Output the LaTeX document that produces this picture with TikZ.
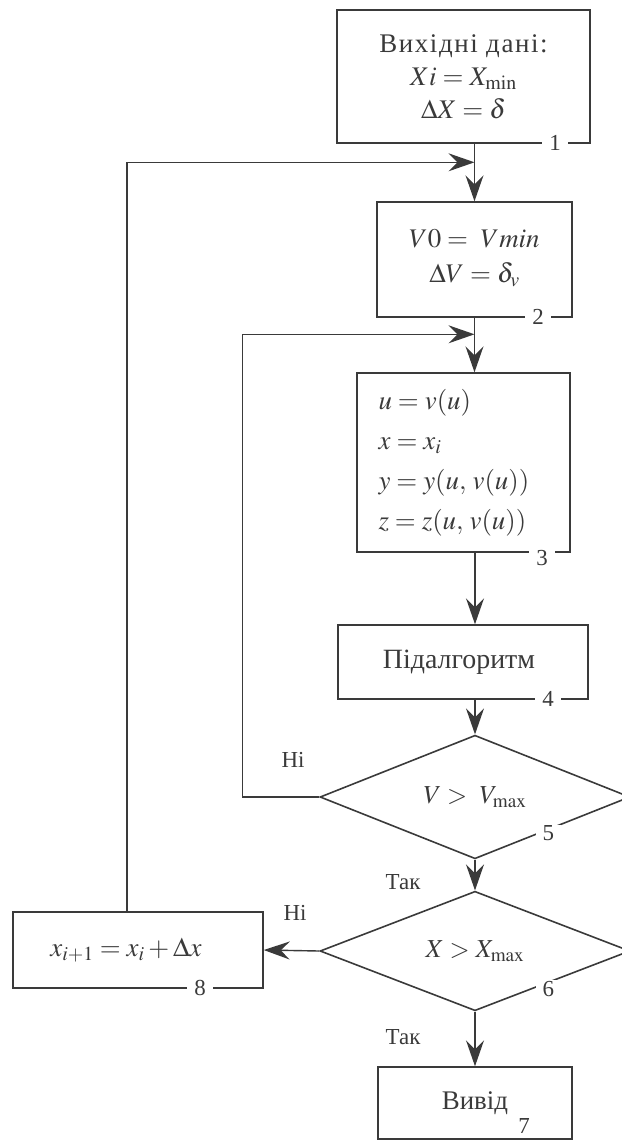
\documentclass[tikz,border=0pt]{standalone}
\usepackage{mathptmx}
\usepackage{fontspec}
\setmainfont{Liberation Serif}
\usepackage{tikz}
\usetikzlibrary{arrows.meta, positioning, shapes.geometric, calc}
\definecolor{inkgray}{RGB}{58,58,58}

\tikzset{
  blk/.style={draw=inkgray, line width=1.4bp, rectangle, inner sep=0pt,
    text=inkgray, align=center, font=\fontsize{27}{33}\selectfont},
  cond/.style={draw=inkgray, line width=1.6bp, diamond, inner sep=0pt,
    minimum width=310bp, minimum height=114bp, text=inkgray,
    font=\fontsize{26}{28}\selectfont},
  num/.style={fill=white, inner xsep=7bp, inner ysep=1bp, text=inkgray,
    font=\fontsize{23}{24}\selectfont},
  tag/.style={text=inkgray, font=\fontsize{23}{24}\selectfont},
  lnk/.style={draw=inkgray, line width=1.4bp},
  arr/.style={lnk, -{Stealth[length=26bp, width=18bp, inset=9bp]}}
}

\begin{document}
\begin{tikzpicture}[x=1bp, y=-1bp]
  \useasboundingbox (0,0) rectangle (622,1141);
  \clip (0,0) rectangle (622,1141);

  % Input data
  \node[blk, minimum width=253bp, minimum height=133bp] (b1) at (463.5,76.5)
       {{\addfontfeature{LetterSpace=6}Вихідні дані:}\\ $Xi = X_{\mathrm{min}}$\\ $\Delta X = \delta$};

  % Initial V
  \node[blk, minimum width=195bp, minimum height=115bp] (b2) at (474.5,259.5)
       {\raisebox{7bp}{$V0 = \ Vmin$}\\[2bp] \raisebox{7bp}{$\Delta V = \delta_v$}};

  % Point on the surface
  \node[blk, minimum width=213bp, minimum height=179bp, align=left,
        text width=170bp, inner xsep=21bp, font=\fontsize{27}{40}\selectfont] (b3) at (463.5,462.5)
       {$u = v(u)$\\ $x = x_i$\\ $y = y(u,\, v(u))$\\ $z = z(u,\, v(u))$};

  % Subalgorithm
  \node[blk, minimum width=250bp, minimum height=74bp, font=\fontsize{28}{33}\selectfont] (b4) at (463,662)
       {\hspace*{-8bp}Підалгоритм};

  % Conditions
  \node[cond] (d5) at (475,797) {$V > \ V_{\mathrm{max}}$};
  \node[cond] (d6) at (475,951) {$X > X_{\mathrm{max}}$};

  % Output and step
  \node[blk, minimum width=194bp, minimum height=72bp] (b7) at (475,1103) {Вивід};
  \node[blk, minimum width=250bp, minimum height=76bp] (b8) at (138,950)
       {\hspace*{-24bp}$x_{i+1} = x_i + \Delta x$};

  % Junctions on the main line
  \coordinate (j1) at ($(b2.north)+(0,-39)$);
  \coordinate (j2) at ($(b3.north)+(11,-38)$);

  % Main flow
  \draw[arr] (b1.south -| b2.north) -- (b2.north);
  \draw[arr] (b2.south) -- (j2) -- (j2 |- b3.north);
  \draw[arr] (b3.south -| d5.north) -- (b4.north -| d5.north);
  \draw[arr] (b4.south -| d5.north) -- (d5.north);
  \draw[arr] (d5.south) -- (d6.north);
  \draw[arr] (d6.south) -- (b7.north);
  \draw[arr] (d6.west) -- (b8.east);

  % Loops back
  \draw[arr] (d5.west) -- ++(-77,0) |- (j2);
  \draw[arr] ([xshift=-11bp]b8.north) |- (j1);

  % Branch labels
  \node[tag] (n5) at (293,760) {Ні};
  \node[tag] (y5) at (403,882) {Так};
  \node[tag] (n6) at (295,913) {Ні};
  \node[tag] (y6) at (403,1037) {Так};

  % Block numbers
  \node[num] (l1) at (555,143) {1};
  \node[num] (l2) at (538,317) {2};
  \node[num] (l3) at (542,558) {3};
  \node[num] (l4) at (548,699) {4};
  \node[num] (l5) at ($(d5.south)!0.47!(d5.east)+(0,3)$) {5};
  \node[num] (l6) at ($(d6.south)!0.47!(d6.east)+(0,6)$) {6};
  \node[num] (l7) at (524,1126) {7};
  \node[num] (l8) at (200,988) {8};
\end{tikzpicture}
\end{document}
